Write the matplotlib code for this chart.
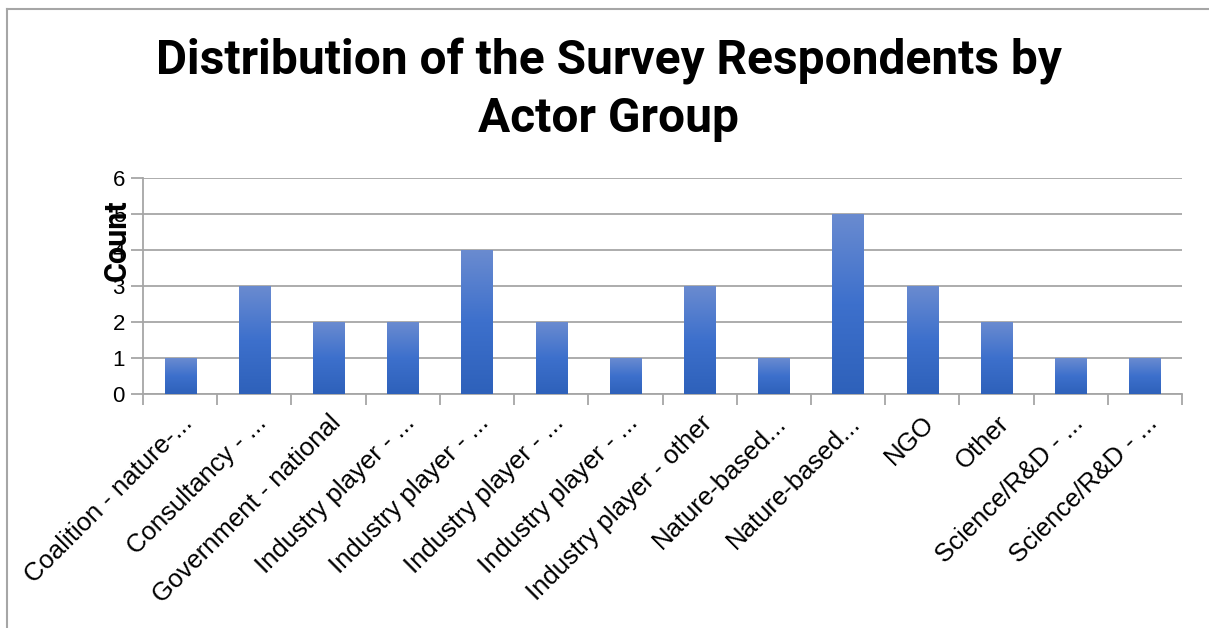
import matplotlib.pyplot as plt
import numpy as np
from matplotlib.lines import Line2D
from matplotlib.colors import LinearSegmentedColormap
from matplotlib.transforms import ScaledTranslation

categories = ['Coalition - nature-...', 'Consultancy - ...', 'Government - national',
              'Industry player - ...', 'Industry player - ...', 'Industry player - ...',
              'Industry player - ...', 'Industry player - other', 'Nature-based...',
              'Nature-based...', 'NGO', 'Other', 'Science/R&D - ...', 'Science/R&D - ...']
counts = [1, 3, 2, 2, 4, 2, 1, 3, 1, 5, 3, 2, 1, 1]
yticks = [0, 1, 2, 3, 4, 5, 6]


def main():
    fig = plt.figure(figsize=(12.09, 6.28), dpi=100)
    ax = fig.add_axes([143 / 1209, 1 - 394 / 628, 1039 / 1209, 216 / 628])

    x = np.arange(len(categories))
    bars = ax.bar(x, counts, width=0.42, color='#4472c4', zorder=2)

    # vertical gradient, lighter at the top like the original
    cmap = LinearSegmentedColormap.from_list('grad', ['#2e61ba', '#3d70cc', '#6a8bd0'])
    grad = np.linspace(0, 1, 256).reshape(-1, 1)
    for b in bars:
        x0, w, h = b.get_x(), b.get_width(), b.get_height()
        im = ax.imshow(grad, cmap=cmap, aspect='auto', origin='lower',
                       extent=[x0, x0 + w, 0, h], zorder=3)
        im.set_clip_path(b)

    ax.set_xlim(-0.5, len(categories) - 0.5)
    ax.set_ylim(0, 6)
    ax.set_yticks(yticks)
    ax.set_yticklabels([str(t) for t in yticks], fontsize=16, family='Liberation Sans')
    ax.grid(axis='y', color='#a6a6a6', linewidth=1.3, zorder=0)

    ax.set_xticks(np.arange(len(categories) + 1) - 0.5, minor=False)
    ax.set_xticklabels([])
    ax.set_xticks(x, minor=True)
    ax.set_xticklabels(categories, minor=True, rotation=45, ha='right',
                       rotation_mode='anchor', fontsize=18.5, family='Liberation Sans')
    shift = ScaledTranslation(-6 / 100, 0, fig.dpi_scale_trans)
    for lbl in ax.get_xticklabels(minor=True):
        lbl.set_transform(lbl.get_transform() + shift)
    ax.tick_params(axis='x', which='minor', length=0, pad=12)
    ax.tick_params(axis='x', which='major', length=8, color='#a6a6a6', width=1.3)
    ax.tick_params(axis='y', length=9, color='#a6a6a6', width=1.3, pad=4)

    for side in ['top', 'right']:
        ax.spines[side].set_visible(False)
    ax.spines['left'].set_color('#a6a6a6')
    ax.spines['bottom'].set_color('#a6a6a6')
    ax.spines['left'].set_linewidth(1.3)
    ax.spines['bottom'].set_linewidth(1.3)

    fig.text(117 / 1209, 1 - 240 / 628, 'Count', rotation=90, ha='center', va='center',
             fontsize=22, fontweight='bold', family='Roboto')

    fig.text(609 / 1209, 1 - 90 / 628, 'Distribution of the Survey Respondents by\nActor Group',
             ha='center', va='center', fontsize=34.5, fontweight='bold', family='Roboto',
             linespacing=1.32)

    # outer chart border (left and top only visible)
    fig.add_artist(Line2D([7 / 1209, 7 / 1209], [0, 1 - 9 / 628], color='#a6a6a6', lw=1.5))
    fig.add_artist(Line2D([7 / 1209, 1], [1 - 9 / 628, 1 - 9 / 628], color='#a6a6a6', lw=1.5))

    fig.savefig('out.png', dpi=100)


if __name__ == '__main__':
    main()
